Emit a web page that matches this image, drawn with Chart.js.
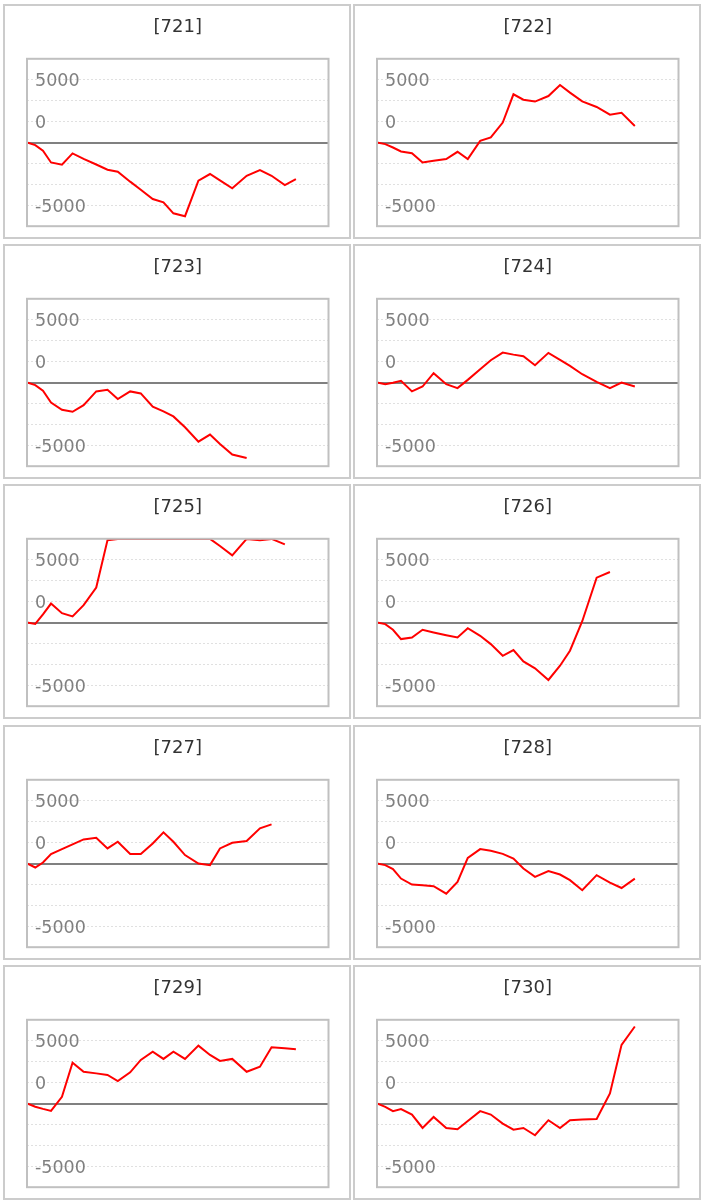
<!DOCTYPE html>
<html>
<head>
<meta charset="utf-8">
<script src="https://cdn.jsdelivr.net/npm/chart.js@4.4.1/dist/chart.umd.min.js"></script>
<style>
  body { margin: 0; background: #fff; }
  #wrap { position: relative; width: 703px; height: 1203px; }
  .box { position: absolute; width: 348px; height: 235px; border: 2px solid #ccc; box-sizing: border-box; }
  .box canvas { display: block; }
</style>
</head>
<body>
<div id="wrap"></div>
<script>
const titles = ['[721]', '[722]', '[723]', '[724]', '[725]', '[726]', '[727]', '[728]', '[729]', '[730]'];

// shared x positions of the points (same dates for every panel)
const xSteps = [0, 0.74, 1.43, 2.15, 3.13, 4.08, 5.07, 6.2, 7.21, 8.13, 9.24, 10.19, 11.26,
                12.22, 13.11, 14.15, 15.35, 16.39, 17.28, 18.38, 19.67, 20.86, 21.9, 23.09, 24.08];

const s721 = [0, -210, -660, -1590, -1770, -870, -1300, -1750, -2170, -2330, -3120, -3760, -4500,
              -4760, -5640, -5870, -3040, -2510, -3020, -3650, -2650, -2200, -2650, -3390, -2910];
const s722 = [0, -130, -400, -710, -850, -1590, -1460, -1320, -740, -1320, 130, 400, 1590,
              3840, 3410, 3260, 3700, 4580, 3970, 3280, 2830, 2220, 2360, 1320];
const s723 = [0, -210, -660, -1590, -2170, -2330, -1800, -710, -580, -1320, -710, -870, -1930,
              -2300, -2700, -3570, -4710, -4150, -4900, -5740, -6010];
const s724 = [0, -130, -20, 130, -710, -320, 740, -130, -450, 210, 1060, 1770, 2380,
              2220, 2090, 1380, 2360, 1800, 1320, 660, 50, -450, 0, -320];
const s725 = [0, -110, 640, 1510, 740, 480, 1380, 2780, 6560, 6660, 6660, 6660, 6660,
              6660, 6660, 6660, 6660, 6660, 6090, 5350, 6660, 6560, 6660, 6220];
const s726 = [0, -130, -580, -1320, -1190, -580, -790, -1010, -1190, -450, -1060, -1720, -2650,
              -2200, -3100, -3650, -4580, -3440, -2250, 100, 3570, 4020];
const s727 = [0, -320, 80, 750, 1150, 1520, 1920, 2050, 1200, 1730, 750, 750, 1600,
              2480, 1730, 670, 0, -130, 1200, 1650, 1790, 2800, 3120];
const s728 = [0, -130, -450, -1200, -1680, -1730, -1810, -2400, -1470, 450, 1150, 1010, 770,
              400, -400, -1070, -610, -880, -1330, -2130, -930, -1520, -1950, -1200];
const s729 = [0, -260, -430, -590, 530, 3250, 2530, 2400, 2270, 1790, 2480, 3470, 4130,
              3550, 4130, 3550, 4610, 3870, 3390, 3550, 2530, 2930, 4480, 4400, 4320];
const s730 = [0, -270, -610, -450, -880, -1950, -1070, -1950, -2050, -1390, -610, -880, -1600,
              -2080, -1950, -2530, -1330, -1950, -1330, -1280, -1230, 800, 4670, 6130];

const series = [s721, s722, s723, s724, s725, s726, s727, s728, s729, s730];

// the labels sit on these grid lines in the original
const yTickValues = [5000, 1667, -5000];
const yTickLabels = ['5000', '0', '-5000'];

const FONT = "'DejaVu Sans', sans-serif";

const framePlugin = {
  id: 'frame',
  afterDatasetsDraw(chart) {
    const { ctx, chartArea: a } = chart;
    ctx.save();
    ctx.strokeStyle = '#c0c0c0';
    ctx.lineWidth = 2;
    ctx.strokeRect(a.left, a.top, a.right - a.left, a.bottom - a.top);
    ctx.restore();
  }
};

const wrap = document.getElementById('wrap');

titles.forEach((title, i) => {
  const col = i % 2, row = Math.floor(i / 2);
  const box = document.createElement('div');
  box.className = 'box';
  box.style.left = (col ? 353 : 3) + 'px';
  box.style.top = (3.5 + row * 240.4) + 'px';
  const canvas = document.createElement('canvas');
  canvas.width = 344;
  canvas.height = 231;
  box.appendChild(canvas);
  wrap.appendChild(box);

  const values = series[i];

  new Chart(canvas, {
    type: 'line',
    data: {
      datasets: [{
        data: values.map((v, k) => ({ x: xSteps[k], y: v })),
        borderColor: '#ff0000',
        borderWidth: 2,
        pointRadius: 0,
        tension: 0,
        fill: false,
      }]
    },
    options: {
      responsive: false,
      animation: false,
      events: [],
      layout: { padding: { left: 22, right: 20.5, top: 0, bottom: 10.8 } },
      plugins: {
        legend: { display: false },
        tooltip: { enabled: false },
        title: {
          display: true,
          text: title,
          color: '#333',
          font: { family: FONT, size: 18, weight: 'normal' },
          padding: { top: 10.7, bottom: 20.5 }
        }
      },
      scales: {
        x: { type: 'linear', min: 0, max: 27, display: false },
        y: {
          min: -20000 / 3,
          max: 20000 / 3,
          afterFit: s => { s.width = 0; s.paddingTop = 0; s.paddingBottom = 0; },
          ticks: {
            count: 9,
            mirror: true,
            padding: 8,
            labelOffset: 2,
            color: '#808080',
            font: { family: FONT, size: 17.5, lineHeight: 1 },
            callback: v => {
              const k = yTickValues.indexOf(Math.round(v));
              return k < 0 ? '' : yTickLabels[k];
            }
          },
          grid: {
            drawTicks: false,
            color: c => Math.abs(c.tick.value) < 1 ? '#808080' : '#e0e0e0',
            lineWidth: c => Math.abs(c.tick.value) < 1 ? 2 : 1,
          },
          border: {
            display: false,
            dash: c => (c.tick && Math.abs(c.tick.value) < 1) ? [] : [2, 2],
          }
        }
      }
    },
    plugins: [framePlugin]
  });
});
</script>
</body>
</html>
